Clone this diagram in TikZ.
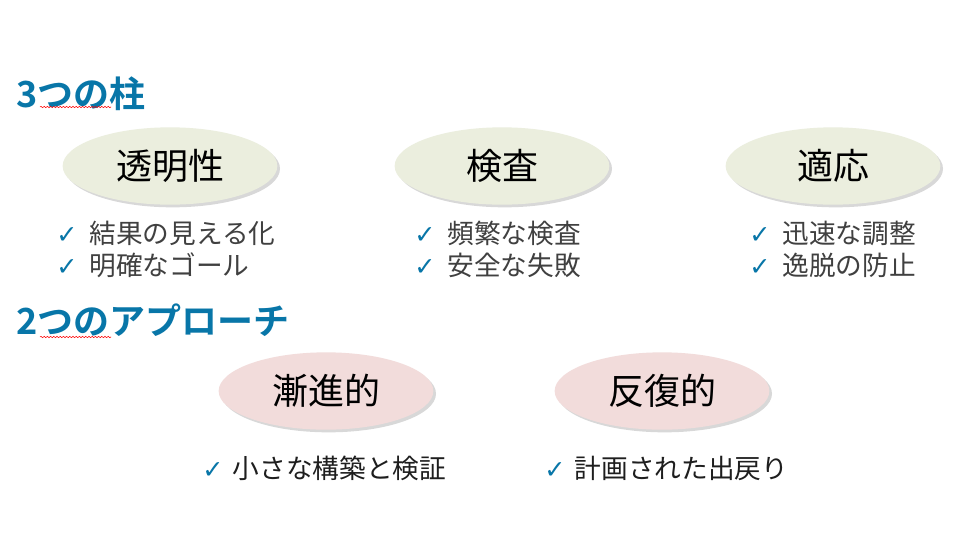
\documentclass[tikz,border=0pt]{standalone}
\usepackage{fontspec}
\setmainfont{Noto Sans CJK JP}[BoldFont={Noto Sans CJK JP Bold}]
\newfontfamily\symfont{DejaVu Sans}
\usetikzlibrary{shapes.geometric,shadows,decorations.pathmorphing}

\definecolor{headblue}{RGB}{8,118,168}
\definecolor{pillargreen}{RGB}{235,238,222}
\definecolor{approachpink}{RGB}{242,220,219}
\definecolor{textgray}{RGB}{64,64,64}
\definecolor{textdark}{RGB}{30,30,30}

\newcommand{\chk}[1]{\makebox[#1][l]{\color{headblue}\symfont\bfseries\fontsize{19}{22}\selectfont ✓}}

\tikzset{
  heading/.style={anchor=west, inner sep=0, text=headblue, font=\fontsize{27}{32}\selectfont\bfseries},
  pillar/.style={ellipse, inner sep=0, fill=pillargreen, minimum width=161pt, minimum height=58pt,
    drop shadow={opacity=0.3, shadow xshift=2pt, shadow yshift=-2pt},
    font=\fontsize{27}{32}\selectfont},
  approach/.style={pillar, fill=approachpink},
  item/.style={anchor=west, inner sep=0, text=textgray, font=\fontsize{20}{24}\selectfont},
  itemdark/.style={item, text=textdark},
  squiggle/.style={red, line width=0.4pt, decorate, decoration={snake, amplitude=0.5pt, segment length=2.4pt}}
}

\begin{document}
\begin{tikzpicture}[x=0.75pt, y=-0.75pt]
\path[fill=white] (0,0) rectangle (966,543);
\useasboundingbox (0,0) rectangle (966,543);

% headings
\node[heading] (pillars) at (16,94) {3つの柱};
\draw[squiggle] (40,107) -- (111,107);
\node[heading] (approaches) at (16,320) {2つのアプローチ};
\draw[squiggle] (40,337) -- (111,337);

% three pillars
\node[pillar] (transparency) at (170,166) {透明性};
\node[pillar] (inspection) at (502,166) {検査};
\node[pillar] (adaptation) at (833,166) {適応};

\node[item] (t1) at (56,233) {\chk{25pt}結果の見える化};
\node[item] (t2) at (56,265) {\chk{25pt}明確なゴール};
\node[item] (i1) at (414,233) {\chk{25pt}頻繁な検査};
\node[item] (i2) at (414,265) {\chk{25pt}安全な失敗};
\node[item] (a1) at (749,233) {\chk{25pt}迅速な調整};
\node[item] (a2) at (749,265) {\chk{25pt}逸脱の防止};

% two approaches
\node[approach] (incremental) at (326,391) {漸進的};
\node[approach] (iterative) at (662,391) {反復的};

\node[itemdark] (n1) at (202,468) {\chk{23pt}小さな構築と検証};
\node[itemdark] (r1) at (544,468) {\chk{23pt}計画された出戻り};
\end{tikzpicture}
\end{document}
